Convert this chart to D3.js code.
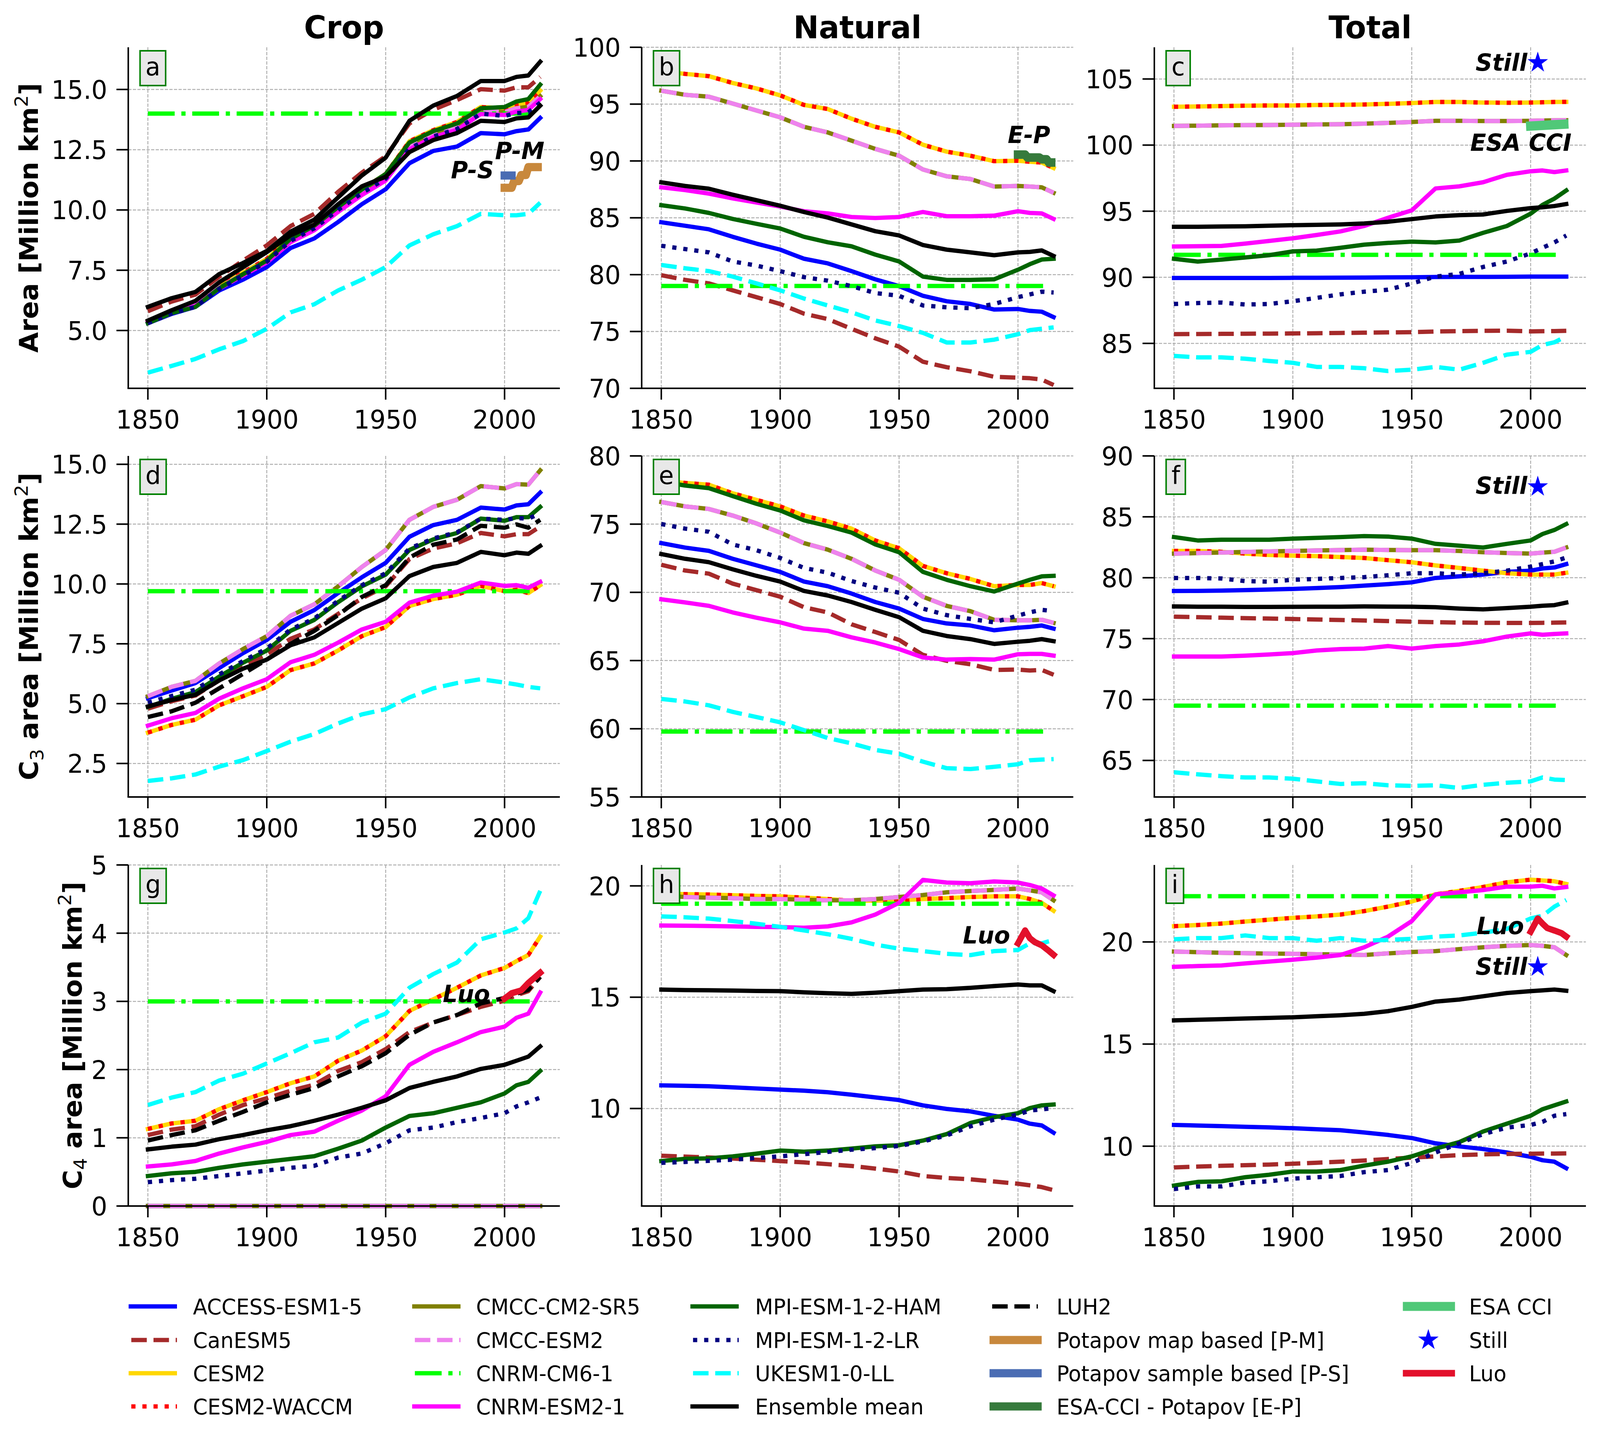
<!DOCTYPE html>
<html>
<head>
<meta charset="utf-8">
<script src="https://cdn.jsdelivr.net/npm/d3@7"></script>
<style>
  html, body { margin: 0; padding: 0; background: #fff; overflow: hidden; }
  #fig { display: block; width: 100vw; height: 100vh; }
  text { font-family: "DejaVu Sans", sans-serif; }
</style>
</head>
<body>
<svg id="fig"></svg>
<script>
// ---------- data ----------
const years = [1850, 1860, 1870, 1880, 1890, 1900, 1910, 1920, 1930, 1940, 1950, 1960, 1970, 1980, 1990, 2000, 2005, 2010, 2015];
const cnrmYears = [1850, 2012];

const models = ["ACCESS-ESM1-5", "CanESM5", "CESM2", "CESM2-WACCM", "CMCC-CM2-SR5", "CMCC-ESM2",
    "CNRM-CM6-1", "CNRM-ESM2-1", "MPI-ESM-1-2-HAM", "MPI-ESM-1-2-LR", "UKESM1-0-LL", "Ensemble mean", "LUH2"];

const columnTitles = ["Crop", "Natural", "Total"];
const panelLetters = ["a", "b", "c", "d", "e", "f", "g", "h", "i"];

// (a) crop area
const cropTotal = {
    "ACCESS-ESM1-5": [5.30, 5.69, 5.98, 6.66, 7.11, 7.63, 8.42, 8.82, 9.50, 10.24, 10.86, 11.94, 12.45, 12.63, 13.19, 13.14, 13.27, 13.34, 13.82],
    "CanESM5": [5.80, 6.20, 6.49, 7.23, 7.90, 8.53, 9.33, 9.84, 10.75, 11.55, 12.23, 13.59, 14.16, 14.56, 15.01, 14.95, 15.09, 15.09, 15.52],
    "CESM2": [5.40, 5.80, 6.09, 6.83, 7.40, 7.97, 8.84, 9.39, 10.16, 10.86, 11.49, 12.85, 13.31, 13.65, 14.27, 14.22, 14.39, 14.44, 14.95],
    "CESM2-WACCM": [5.40, 5.80, 6.09, 6.83, 7.40, 7.97, 8.84, 9.39, 10.16, 10.86, 11.49, 12.85, 13.31, 13.65, 14.27, 14.22, 14.39, 14.44, 14.95],
    "CMCC-CM2-SR5": [5.36, 5.76, 6.05, 6.78, 7.34, 7.90, 8.76, 9.30, 10.06, 10.76, 11.38, 12.70, 13.18, 13.50, 14.12, 14.06, 14.22, 14.28, 14.72],
    "CMCC-ESM2": [5.36, 5.76, 6.05, 6.78, 7.34, 7.90, 8.76, 9.30, 10.06, 10.76, 11.38, 12.70, 13.18, 13.50, 14.12, 14.06, 14.22, 14.28, 14.72],
    "CNRM-CM6-1": [14.0, 14.0],
    "CNRM-ESM2-1": [5.35, 5.74, 6.02, 6.74, 7.28, 7.82, 8.66, 9.16, 9.92, 10.62, 11.22, 12.52, 13.02, 13.32, 13.98, 13.94, 14.08, 14.15, 14.60],
    "MPI-ESM-1-2-HAM": [5.30, 5.72, 5.98, 6.75, 7.33, 7.90, 8.80, 9.35, 10.12, 10.85, 11.49, 12.80, 13.27, 13.59, 14.22, 14.27, 14.50, 14.60, 15.20],
    "MPI-ESM-1-2-LR": [5.30, 5.70, 5.98, 6.72, 7.28, 7.85, 8.72, 9.24, 10.00, 10.70, 11.30, 12.55, 13.05, 13.36, 14.00, 13.90, 14.02, 14.05, 14.45],
    "UKESM1-0-LL": [3.25, 3.53, 3.82, 4.22, 4.56, 5.07, 5.75, 6.09, 6.66, 7.11, 7.63, 8.53, 8.99, 9.33, 9.84, 9.78, 9.78, 9.84, 10.30],
    "Ensemble mean": [5.98, 6.34, 6.60, 7.34, 7.80, 8.30, 9.10, 9.60, 10.52, 11.43, 12.17, 13.70, 14.33, 14.73, 15.35, 15.35, 15.52, 15.58, 16.15],
    "LUH2": [5.41, 5.84, 6.23, 7.00, 7.62, 8.25, 8.95, 9.39, 10.24, 10.98, 11.38, 12.40, 12.90, 13.19, 13.70, 13.65, 13.80, 13.84, 14.33]
};

// (b) natural area
const naturalTotal = {
    "ACCESS-ESM1-5": [84.61, 84.30, 83.99, 83.33, 82.73, 82.20, 81.40, 80.99, 80.31, 79.59, 78.99, 78.14, 77.66, 77.42, 76.93, 76.98, 76.81, 76.74, 76.26],
    "CanESM5": [79.95, 79.54, 79.23, 78.62, 78.02, 77.42, 76.57, 76.09, 75.24, 74.40, 73.67, 72.34, 71.86, 71.50, 71.01, 70.94, 70.89, 70.77, 70.29],
    "CESM2": [97.90, 97.66, 97.46, 96.86, 96.38, 95.77, 94.93, 94.57, 93.72, 93.00, 92.51, 91.43, 90.82, 90.46, 89.98, 90.02, 89.93, 89.86, 89.37],
    "CESM2-WACCM": [97.90, 97.66, 97.46, 96.86, 96.38, 95.77, 94.93, 94.57, 93.72, 93.00, 92.51, 91.43, 90.82, 90.46, 89.98, 90.02, 89.93, 89.86, 89.37],
    "CMCC-CM2-SR5": [96.18, 95.82, 95.65, 95.05, 94.44, 93.84, 93.00, 92.51, 91.79, 91.06, 90.46, 89.25, 88.65, 88.41, 87.75, 87.80, 87.75, 87.68, 87.20],
    "CMCC-ESM2": [96.18, 95.82, 95.65, 95.05, 94.44, 93.84, 93.00, 92.51, 91.79, 91.06, 90.46, 89.25, 88.65, 88.41, 87.75, 87.80, 87.75, 87.68, 87.20],
    "CNRM-CM6-1": [79.0, 79.0],
    "CNRM-ESM2-1": [87.68, 87.44, 87.13, 86.71, 86.35, 85.99, 85.58, 85.39, 85.07, 84.98, 85.07, 85.51, 85.14, 85.14, 85.19, 85.58, 85.43, 85.39, 84.90],
    "MPI-ESM-1-2-HAM": [86.11, 85.82, 85.43, 84.90, 84.47, 84.06, 83.33, 82.85, 82.49, 81.76, 81.16, 79.83, 79.54, 79.54, 79.59, 80.43, 80.92, 81.33, 81.40],
    "MPI-ESM-1-2-LR": [82.54, 82.25, 81.96, 81.16, 80.80, 80.31, 79.78, 79.47, 78.99, 78.38, 78.14, 77.29, 77.13, 77.05, 77.42, 78.02, 78.26, 78.50, 78.43],
    "UKESM1-0-LL": [80.85, 80.56, 80.31, 79.83, 79.23, 78.62, 77.90, 77.29, 76.69, 75.97, 75.48, 74.88, 74.03, 74.03, 74.28, 74.76, 75.12, 75.24, 75.36],
    "Ensemble mean": [88.12, 87.80, 87.56, 87.03, 86.55, 86.06, 85.51, 85.02, 84.42, 83.82, 83.45, 82.61, 82.20, 81.96, 81.71, 81.96, 82.00, 82.13, 81.64]
};

// (c) total area
const allTotal = {
    "ACCESS-ESM1-5": [89.95, 89.95, 89.95, 89.95, 89.95, 89.96, 89.96, 89.97, 89.98, 89.99, 90.00, 90.02, 90.03, 90.03, 90.04, 90.05, 90.05, 90.05, 90.05],
    "CanESM5": [85.70, 85.71, 85.72, 85.73, 85.74, 85.75, 85.77, 85.79, 85.81, 85.83, 85.85, 85.90, 85.93, 85.95, 85.96, 85.91, 85.92, 85.93, 85.95],
    "CESM2": [102.90, 102.92, 102.95, 102.98, 103.00, 103.00, 103.03, 103.05, 103.07, 103.12, 103.18, 103.26, 103.26, 103.22, 103.20, 103.22, 103.24, 103.26, 103.27],
    "CESM2-WACCM": [102.90, 102.92, 102.95, 102.98, 103.00, 103.00, 103.03, 103.05, 103.07, 103.12, 103.18, 103.26, 103.26, 103.22, 103.20, 103.22, 103.24, 103.26, 103.27],
    "CMCC-CM2-SR5": [101.45, 101.47, 101.50, 101.51, 101.52, 101.54, 101.56, 101.58, 101.62, 101.68, 101.75, 101.84, 101.84, 101.82, 101.82, 101.84, 101.86, 101.87, 101.88],
    "CMCC-ESM2": [101.45, 101.47, 101.50, 101.51, 101.52, 101.54, 101.56, 101.58, 101.62, 101.68, 101.75, 101.84, 101.84, 101.82, 101.82, 101.84, 101.86, 101.87, 101.88],
    "CNRM-CM6-1": [91.7, 91.7],
    "CNRM-ESM2-1": [92.33, 92.35, 92.37, 92.55, 92.75, 92.95, 93.20, 93.47, 93.88, 94.50, 95.06, 96.72, 96.88, 97.19, 97.75, 98.02, 98.08, 97.96, 98.08],
    "MPI-ESM-1-2-HAM": [91.40, 91.19, 91.34, 91.50, 91.67, 91.96, 92.02, 92.23, 92.47, 92.60, 92.70, 92.64, 92.78, 93.36, 93.88, 94.81, 95.48, 95.95, 96.57],
    "MPI-ESM-1-2-LR": [87.98, 88.05, 88.09, 87.94, 87.98, 88.19, 88.44, 88.71, 88.91, 89.06, 89.53, 90.05, 90.26, 90.78, 91.19, 91.81, 92.23, 92.64, 93.16],
    "UKESM1-0-LL": [84.05, 83.94, 83.94, 83.84, 83.67, 83.53, 83.22, 83.22, 83.12, 82.91, 83.01, 83.22, 83.01, 83.53, 84.15, 84.36, 84.88, 85.08, 85.54],
    "Ensemble mean": [93.82, 93.82, 93.84, 93.86, 93.90, 93.94, 93.97, 94.00, 94.07, 94.20, 94.40, 94.60, 94.70, 94.75, 95.02, 95.23, 95.30, 95.39, 95.54]
};

// (d) crop C3 area
const cropC3 = {
    "ACCESS-ESM1-5": [5.23, 5.55, 5.86, 6.49, 7.11, 7.66, 8.42, 8.91, 9.62, 10.28, 10.88, 11.97, 12.46, 12.68, 13.19, 13.11, 13.28, 13.33, 13.82],
    "CanESM5": [4.79, 5.10, 5.34, 5.97, 6.57, 7.06, 7.71, 8.10, 8.75, 9.40, 9.90, 11.04, 11.48, 11.70, 12.13, 11.99, 12.08, 12.08, 12.40],
    "CESM2": [3.79, 4.11, 4.33, 4.93, 5.31, 5.70, 6.40, 6.68, 7.22, 7.82, 8.20, 9.08, 9.37, 9.55, 9.92, 9.70, 9.76, 9.62, 9.95],
    "CESM2-WACCM": [3.79, 4.11, 4.33, 4.93, 5.31, 5.70, 6.40, 6.68, 7.22, 7.82, 8.20, 9.08, 9.37, 9.55, 9.92, 9.70, 9.76, 9.62, 9.95],
    "CMCC-CM2-SR5": [5.31, 5.70, 5.95, 6.68, 7.28, 7.82, 8.67, 9.15, 9.90, 10.71, 11.42, 12.68, 13.22, 13.52, 14.09, 13.99, 14.17, 14.15, 14.75],
    "CMCC-ESM2": [5.31, 5.70, 5.95, 6.68, 7.28, 7.82, 8.67, 9.15, 9.90, 10.71, 11.42, 12.68, 13.22, 13.52, 14.09, 13.99, 14.17, 14.15, 14.75],
    "CNRM-CM6-1": [9.7, 9.7],
    "CNRM-ESM2-1": [4.08, 4.39, 4.61, 5.21, 5.64, 6.02, 6.73, 7.04, 7.55, 8.10, 8.42, 9.22, 9.51, 9.68, 10.06, 9.92, 9.95, 9.84, 10.09],
    "MPI-ESM-1-2-HAM": [4.86, 5.20, 5.48, 6.13, 6.71, 7.22, 8.04, 8.50, 9.24, 9.90, 10.39, 11.42, 11.86, 12.13, 12.73, 12.64, 12.79, 12.79, 13.22],
    "MPI-ESM-1-2-LR": [5.04, 5.32, 5.58, 6.22, 6.78, 7.30, 8.10, 8.56, 9.30, 9.95, 10.45, 11.48, 11.90, 12.16, 12.73, 12.68, 12.75, 12.73, 12.95],
    "UKESM1-0-LL": [1.77, 1.88, 2.04, 2.37, 2.64, 3.02, 3.41, 3.73, 4.17, 4.55, 4.77, 5.26, 5.64, 5.86, 6.02, 5.88, 5.80, 5.70, 5.64],
    "Ensemble mean": [4.88, 5.15, 5.37, 5.97, 6.46, 6.84, 7.44, 7.77, 8.37, 8.97, 9.40, 10.33, 10.71, 10.88, 11.34, 11.20, 11.31, 11.26, 11.59],
    "LUH2": [4.44, 4.68, 5.04, 5.64, 6.24, 6.84, 7.50, 8.04, 8.70, 9.46, 9.95, 11.10, 11.64, 11.86, 12.43, 12.35, 12.49, 12.35, 12.68]
};

// (e) natural C3 area
const naturalC3 = {
    "ACCESS-ESM1-5": [73.61, 73.28, 73.04, 72.46, 71.98, 71.50, 70.79, 70.45, 69.91, 69.29, 68.81, 68.05, 67.72, 67.57, 67.22, 67.41, 67.47, 67.57, 67.34],
    "CanESM5": [72.02, 71.60, 71.37, 70.64, 70.16, 69.68, 68.91, 68.53, 67.66, 67.09, 66.51, 65.42, 64.98, 64.73, 64.31, 64.34, 64.27, 64.31, 63.96],
    "CESM2": [78.18, 78.02, 77.89, 77.26, 76.78, 76.30, 75.63, 75.20, 74.67, 73.80, 73.23, 71.94, 71.40, 70.98, 70.45, 70.54, 70.54, 70.68, 70.45],
    "CESM2-WACCM": [78.18, 78.02, 77.89, 77.26, 76.78, 76.30, 75.63, 75.20, 74.67, 73.80, 73.23, 71.94, 71.40, 70.98, 70.45, 70.54, 70.54, 70.68, 70.45],
    "CMCC-CM2-SR5": [76.62, 76.30, 76.11, 75.63, 75.05, 74.38, 73.61, 73.13, 72.46, 71.60, 70.92, 69.68, 69.01, 68.62, 67.99, 67.95, 67.95, 67.99, 67.76],
    "CMCC-ESM2": [76.62, 76.30, 76.11, 75.63, 75.05, 74.38, 73.61, 73.13, 72.46, 71.60, 70.92, 69.68, 69.01, 68.62, 67.99, 67.95, 67.95, 67.99, 67.76],
    "CNRM-CM6-1": [59.8, 59.8],
    "CNRM-ESM2-1": [69.49, 69.26, 69.01, 68.53, 68.14, 67.80, 67.34, 67.18, 66.70, 66.32, 65.84, 65.23, 65.07, 65.11, 65.07, 65.46, 65.49, 65.49, 65.36],
    "MPI-ESM-1-2-HAM": [78.12, 77.83, 77.64, 77.06, 76.49, 76.00, 75.28, 74.86, 74.38, 73.51, 72.94, 71.50, 70.92, 70.45, 70.06, 70.64, 70.92, 71.17, 71.21],
    "MPI-ESM-1-2-LR": [75.01, 74.67, 74.44, 73.51, 73.09, 72.52, 71.79, 71.44, 70.83, 70.35, 69.97, 68.81, 68.33, 68.05, 67.80, 68.30, 68.53, 68.72, 68.62],
    "UKESM1-0-LL": [62.19, 62.00, 61.72, 61.24, 60.86, 60.47, 59.90, 59.32, 58.93, 58.45, 58.17, 57.59, 57.11, 57.05, 57.21, 57.40, 57.69, 57.74, 57.78],
    "Ensemble mean": [72.81, 72.46, 72.21, 71.69, 71.21, 70.79, 70.10, 69.77, 69.29, 68.72, 68.18, 67.18, 66.80, 66.57, 66.22, 66.38, 66.45, 66.57, 66.42]
};

// (f) total C3 area
const allC3 = {
    "ACCESS-ESM1-5": [78.91, 78.92, 78.94, 78.98, 79.03, 79.08, 79.15, 79.23, 79.35, 79.47, 79.62, 79.98, 80.11, 80.26, 80.48, 80.58, 80.76, 80.84, 81.12],
    "CanESM5": [76.80, 76.76, 76.72, 76.68, 76.65, 76.61, 76.57, 76.53, 76.49, 76.44, 76.39, 76.35, 76.32, 76.30, 76.29, 76.29, 76.30, 76.31, 76.33],
    "CESM2": [82.20, 82.20, 82.13, 81.98, 81.87, 81.81, 81.77, 81.70, 81.62, 81.44, 81.27, 81.01, 80.80, 80.58, 80.37, 80.26, 80.26, 80.26, 80.41],
    "CESM2-WACCM": [82.20, 82.20, 82.13, 81.98, 81.87, 81.81, 81.77, 81.70, 81.62, 81.44, 81.27, 81.01, 80.80, 80.58, 80.37, 80.26, 80.26, 80.26, 80.41],
    "CMCC-CM2-SR5": [81.98, 82.02, 82.07, 82.12, 82.16, 82.20, 82.24, 82.27, 82.30, 82.28, 82.26, 82.26, 82.20, 82.09, 82.03, 81.98, 82.06, 82.13, 82.48],
    "CMCC-ESM2": [81.98, 82.02, 82.07, 82.12, 82.16, 82.20, 82.24, 82.27, 82.30, 82.28, 82.26, 82.26, 82.20, 82.09, 82.03, 81.98, 82.06, 82.13, 82.48],
    "CNRM-CM6-1": [69.5, 69.5],
    "CNRM-ESM2-1": [73.53, 73.53, 73.53, 73.60, 73.70, 73.81, 74.03, 74.14, 74.18, 74.39, 74.18, 74.39, 74.52, 74.78, 75.17, 75.43, 75.32, 75.38, 75.43],
    "MPI-ESM-1-2-HAM": [83.34, 83.06, 83.12, 83.12, 83.12, 83.21, 83.27, 83.34, 83.42, 83.38, 83.21, 82.78, 82.63, 82.48, 82.78, 83.06, 83.59, 83.92, 84.41],
    "MPI-ESM-1-2-LR": [79.98, 79.98, 79.94, 79.72, 79.68, 79.83, 79.90, 79.98, 80.05, 80.20, 80.37, 80.37, 80.26, 80.37, 80.58, 80.91, 81.12, 81.34, 81.66],
    "UKESM1-0-LL": [64.03, 63.86, 63.71, 63.60, 63.60, 63.50, 63.28, 63.07, 63.13, 62.96, 62.91, 62.96, 62.74, 63.00, 63.17, 63.28, 63.60, 63.43, 63.39],
    "Ensemble mean": [77.64, 77.62, 77.62, 77.60, 77.60, 77.61, 77.62, 77.62, 77.64, 77.63, 77.62, 77.58, 77.47, 77.40, 77.51, 77.62, 77.70, 77.75, 77.96]
};

// (g) crop C4 area
const cropC4 = {
    "ACCESS-ESM1-5": [0, 0, 0, 0, 0, 0, 0, 0, 0, 0, 0, 0, 0, 0, 0, 0, 0, 0, 0],
    "CanESM5": [1.04, 1.12, 1.17, 1.34, 1.48, 1.58, 1.69, 1.78, 1.98, 2.11, 2.30, 2.55, 2.69, 2.80, 2.92, 3.01, 3.09, 3.15, 3.36],
    "CESM2": [1.13, 1.21, 1.25, 1.42, 1.55, 1.67, 1.80, 1.90, 2.13, 2.28, 2.49, 2.86, 3.03, 3.20, 3.38, 3.49, 3.59, 3.68, 3.95],
    "CESM2-WACCM": [1.13, 1.21, 1.25, 1.42, 1.55, 1.67, 1.80, 1.90, 2.13, 2.28, 2.49, 2.86, 3.03, 3.20, 3.38, 3.49, 3.59, 3.68, 3.95],
    "CMCC-CM2-SR5": [0, 0, 0, 0, 0, 0, 0, 0, 0, 0, 0, 0, 0, 0, 0, 0, 0, 0, 0],
    "CMCC-ESM2": [0, 0, 0, 0, 0, 0, 0, 0, 0, 0, 0, 0, 0, 0, 0, 0, 0, 0, 0],
    "CNRM-CM6-1": [3.0, 3.0],
    "CNRM-ESM2-1": [0.58, 0.61, 0.66, 0.77, 0.86, 0.94, 1.04, 1.09, 1.25, 1.40, 1.61, 2.07, 2.26, 2.40, 2.55, 2.63, 2.76, 2.82, 3.13],
    "MPI-ESM-1-2-HAM": [0.44, 0.48, 0.50, 0.56, 0.61, 0.65, 0.69, 0.73, 0.84, 0.96, 1.15, 1.32, 1.36, 1.44, 1.52, 1.65, 1.77, 1.82, 1.98],
    "MPI-ESM-1-2-LR": [0.35, 0.38, 0.40, 0.44, 0.48, 0.52, 0.56, 0.59, 0.71, 0.77, 0.92, 1.11, 1.15, 1.23, 1.29, 1.36, 1.46, 1.52, 1.59],
    "UKESM1-0-LL": [1.48, 1.59, 1.67, 1.84, 1.94, 2.09, 2.24, 2.40, 2.47, 2.69, 2.82, 3.20, 3.40, 3.57, 3.91, 4.01, 4.07, 4.22, 4.62],
    "Ensemble mean": [0.83, 0.87, 0.90, 0.98, 1.04, 1.11, 1.17, 1.25, 1.34, 1.44, 1.55, 1.73, 1.82, 1.90, 2.01, 2.07, 2.13, 2.19, 2.34],
    "LUH2": [0.96, 1.04, 1.11, 1.25, 1.38, 1.52, 1.63, 1.73, 1.90, 2.05, 2.24, 2.51, 2.69, 2.80, 2.97, 3.05, 3.11, 3.17, 3.36]
};

// (h) natural C4 area
const naturalC4 = {
    "ACCESS-ESM1-5": [11.04, 11.02, 11.00, 10.95, 10.90, 10.85, 10.80, 10.73, 10.62, 10.50, 10.38, 10.14, 9.98, 9.87, 9.67, 9.50, 9.32, 9.24, 8.91],
    "CanESM5": [7.88, 7.84, 7.80, 7.75, 7.70, 7.64, 7.58, 7.50, 7.42, 7.30, 7.17, 6.97, 6.88, 6.82, 6.72, 6.62, 6.55, 6.47, 6.33],
    "CESM2": [19.65, 19.63, 19.61, 19.58, 19.55, 19.53, 19.47, 19.41, 19.33, 19.34, 19.35, 19.41, 19.45, 19.50, 19.53, 19.53, 19.41, 19.24, 18.88],
    "CESM2-WACCM": [19.65, 19.63, 19.61, 19.58, 19.55, 19.53, 19.47, 19.41, 19.33, 19.34, 19.35, 19.41, 19.45, 19.50, 19.53, 19.53, 19.41, 19.24, 18.88],
    "CMCC-CM2-SR5": [19.57, 19.50, 19.47, 19.45, 19.41, 19.41, 19.38, 19.35, 19.35, 19.41, 19.50, 19.59, 19.71, 19.77, 19.82, 19.88, 19.80, 19.71, 19.35],
    "CMCC-ESM2": [19.57, 19.50, 19.47, 19.45, 19.41, 19.41, 19.38, 19.35, 19.35, 19.41, 19.50, 19.59, 19.71, 19.77, 19.82, 19.88, 19.80, 19.71, 19.35],
    "CNRM-CM6-1": [19.2, 19.2],
    "CNRM-ESM2-1": [18.22, 18.21, 18.20, 18.18, 18.16, 18.15, 18.12, 18.18, 18.36, 18.71, 19.24, 20.27, 20.15, 20.12, 20.20, 20.15, 20.04, 19.88, 19.57],
    "MPI-ESM-1-2-HAM": [7.64, 7.74, 7.76, 7.85, 7.97, 8.11, 8.06, 8.11, 8.20, 8.30, 8.35, 8.56, 8.85, 9.35, 9.61, 9.79, 10.02, 10.14, 10.18],
    "MPI-ESM-1-2-LR": [7.56, 7.60, 7.65, 7.70, 7.78, 7.85, 7.95, 8.05, 8.15, 8.22, 8.32, 8.52, 8.79, 9.20, 9.50, 9.73, 9.91, 9.96, 10.02],
    "UKESM1-0-LL": [18.63, 18.59, 18.53, 18.42, 18.30, 18.16, 18.00, 17.83, 17.62, 17.36, 17.18, 17.07, 16.95, 16.89, 17.07, 17.12, 17.42, 17.42, 17.57],
    "Ensemble mean": [15.34, 15.32, 15.31, 15.30, 15.28, 15.27, 15.22, 15.18, 15.15, 15.20, 15.27, 15.34, 15.36, 15.42, 15.50, 15.57, 15.53, 15.53, 15.27]
};

// (i) total C4 area
const allC4 = {
    "ACCESS-ESM1-5": [11.04, 11.01, 10.98, 10.95, 10.92, 10.88, 10.83, 10.78, 10.67, 10.55, 10.40, 10.14, 9.99, 9.86, 9.69, 9.48, 9.31, 9.24, 8.92],
    "CanESM5": [8.96, 9.00, 9.04, 9.07, 9.10, 9.14, 9.19, 9.24, 9.30, 9.37, 9.44, 9.50, 9.56, 9.60, 9.62, 9.63, 9.64, 9.64, 9.65],
    "CESM2": [20.77, 20.83, 20.90, 21.00, 21.09, 21.18, 21.25, 21.34, 21.51, 21.73, 21.98, 22.33, 22.50, 22.69, 22.92, 23.05, 23.01, 22.97, 22.84],
    "CESM2-WACCM": [20.77, 20.83, 20.90, 21.00, 21.09, 21.18, 21.25, 21.34, 21.51, 21.73, 21.98, 22.33, 22.50, 22.69, 22.92, 23.05, 23.01, 22.97, 22.84],
    "CMCC-CM2-SR5": [19.53, 19.50, 19.47, 19.45, 19.43, 19.42, 19.40, 19.39, 19.36, 19.44, 19.51, 19.55, 19.65, 19.74, 19.81, 19.85, 19.81, 19.74, 19.36],
    "CMCC-ESM2": [19.53, 19.50, 19.47, 19.45, 19.43, 19.42, 19.40, 19.39, 19.36, 19.44, 19.51, 19.55, 19.65, 19.74, 19.81, 19.85, 19.81, 19.74, 19.36],
    "CNRM-CM6-1": [22.24, 22.24],
    "CNRM-ESM2-1": [18.78, 18.82, 18.85, 18.95, 19.04, 19.13, 19.23, 19.36, 19.74, 20.26, 21.02, 22.33, 22.43, 22.54, 22.71, 22.71, 22.75, 22.62, 22.69],
    "MPI-ESM-1-2-HAM": [8.07, 8.25, 8.28, 8.48, 8.60, 8.76, 8.76, 8.83, 9.05, 9.24, 9.50, 9.88, 10.20, 10.72, 11.10, 11.49, 11.81, 12.00, 12.19],
    "MPI-ESM-1-2-LR": [7.90, 8.03, 8.03, 8.22, 8.28, 8.41, 8.48, 8.54, 8.73, 8.83, 9.18, 9.69, 10.14, 10.59, 10.91, 11.04, 11.19, 11.49, 11.57],
    "UKESM1-0-LL": [20.13, 20.19, 20.19, 20.32, 20.19, 20.19, 20.06, 20.19, 20.06, 20.10, 20.15, 20.26, 20.32, 20.45, 20.64, 21.15, 21.28, 21.73, 22.05],
    "Ensemble mean": [16.16, 16.19, 16.22, 16.25, 16.28, 16.31, 16.36, 16.41, 16.48, 16.61, 16.82, 17.08, 17.18, 17.34, 17.50, 17.59, 17.63, 17.67, 17.61]
};

// observation-based estimates
const pmYears = [2000, 2003, 2004, 2006, 2007, 2009, 2010, 2014];
const pmCrop = [10.92, 10.92, 11.2, 11.2, 11.45, 11.45, 11.78, 11.78];
const psYears = [2000, 2003];
const psCrop = [11.43, 11.43];
const epYears = [2000, 2003, 2004, 2009, 2010, 2012, 2013, 2014];
const epNatural = [90.56, 90.56, 90.3, 90.3, 90.15, 90.15, 89.86, 89.86];
const esaYears = [2000, 2014];
const esaTotal = [101.44, 101.58];
const luoYears = [2000, 2003, 2005, 2007, 2010, 2013, 2015];
const luoCropC4 = [3.04, 3.12, 3.14, 3.16, 3.27, 3.36, 3.42];
const luoNaturalC4 = [17.42, 18.0, 17.65, 17.48, 17.33, 17.08, 16.9];
const luoTotalC4 = [20.5, 21.15, 20.9, 20.68, 20.56, 20.43, 20.26];
const stillYear = 2003;
const stillTotal = 106.24, stillC3 = 87.47, stillC4 = 18.78;

// axis limits and ticks per panel
const yDomains = [[2.6, 16.75], [70, 100], [81.6, 107.4], [1.1, 15.35], [55, 80], [62, 90], [0, 5], [5.62, 20.94], [7.07, 23.77]];
const yTicks = [[5, 7.5, 10, 12.5, 15], [70, 75, 80, 85, 90, 95, 100], [85, 90, 95, 100, 105],
    [2.5, 5, 7.5, 10, 12.5, 15], [55, 60, 65, 70, 75, 80], [65, 70, 75, 80, 85, 90],
    [0, 1, 2, 3, 4, 5], [10, 15, 20], [10, 15, 20]];
const xTicks = [1850, 1900, 1950, 2000];

// ---------- styles ----------
const lineStyles = {
    "ACCESS-ESM1-5": { color: "#0000ff", dash: "solid" },
    "CanESM5": { color: "#a52a2a", dash: "dashed" },
    "CESM2": { color: "#ffd700", dash: "solid" },
    "CESM2-WACCM": { color: "#ff0000", dash: "dotted" },
    "CMCC-CM2-SR5": { color: "#808000", dash: "solid" },
    "CMCC-ESM2": { color: "#ee82ee", dash: "dashed" },
    "CNRM-CM6-1": { color: "#00ff00", dash: "dashdot" },
    "CNRM-ESM2-1": { color: "#ff00ff", dash: "solid" },
    "MPI-ESM-1-2-HAM": { color: "#006400", dash: "solid" },
    "MPI-ESM-1-2-LR": { color: "#000080", dash: "dotted" },
    "UKESM1-0-LL": { color: "#00ffff", dash: "dashed" },
    "Ensemble mean": { color: "#000000", dash: "solid" },
    "LUH2": { color: "#000000", dash: "dashed" }
};
const dashPatterns = { solid: null, dashed: [3.7, 1.6], dotted: [1, 1.65], dashdot: [6.4, 1.6, 1, 1.6] };
const obsColors = { pm: "#c8883c", ps: "#4a6cb3", ep: "#367a3c", esa: "#50c878", still: "#0000ff", luo: "#e3102b" };

const W = 4204, H = 3668;
const LW = 11;
const colX = [337, 1686, 3033], rowY = [121, 1167, 2214];
const PW = 1134, PH = 873;
const tickFont = 66;

// the figure scales to the window so nothing is cut at the edges
const svg = d3.select("#fig")
    .attr("viewBox", `0 0 ${W} ${H}`)
    .attr("preserveAspectRatio", "none");
svg.append("rect").attr("width", W).attr("height", H).attr("fill", "#fff");

const x = d3.scaleLinear().domain([1841.75, 2023.25]).range([0, PW]);

function dashArray(kind, lw) {
    const p = dashPatterns[kind];
    return p ? p.map(v => v * lw).join(",") : null;
}

function drawLine(g, y, xs, ys, color, lw, dash, cap) {
    const line = d3.line().x((d, i) => x(xs[i])).y(d => y(d));
    g.append("path")
        .datum(ys)
        .attr("d", line)
        .attr("fill", "none")
        .attr("stroke", color)
        .attr("stroke-width", lw)
        .attr("stroke-linejoin", "round")
        .attr("stroke-linecap", cap || (dash && dash !== "solid" ? "butt" : "square"))
        .attr("stroke-dasharray", dash ? dashArray(dash, lw) : null);
}

function label(g, px, py, txt, anchor) {
    g.append("text")
        .attr("x", px).attr("y", py)
        .attr("text-anchor", anchor)
        .attr("font-size", 61)
        .attr("font-weight", "bold")
        .attr("font-style", "italic")
        .attr("fill", "#000")
        .text(txt);
}

function drawStar(g, px, py, size) {
    g.append("path")
        .attr("d", d3.symbol(d3.symbolStar).size(size)())
        .attr("transform", `translate(${px},${py})`)
        .attr("fill", obsColors.still);
}

const panelData = [cropTotal, naturalTotal, allTotal, cropC3, naturalC3, allC3, cropC4, naturalC4, allC4];

panelData.forEach((data, k) => {
    const col = k % 3, row = Math.floor(k / 3);
    const g = svg.append("g").attr("transform", `translate(${colX[col]},${rowY[row]})`);
    const y = d3.scaleLinear().domain(yDomains[k]).range([PH, 0]);

    // grid
    g.selectAll(".gx").data(xTicks).join("line")
        .attr("x1", d => x(d)).attr("x2", d => x(d)).attr("y1", 0).attr("y2", PH)
        .attr("stroke", "#b0b0b0").attr("stroke-width", 2.5).attr("stroke-dasharray", "8.5,3.5");
    g.selectAll(".gy").data(yTicks[k]).join("line")
        .attr("x1", 0).attr("x2", PW).attr("y1", d => y(d)).attr("y2", d => y(d))
        .attr("stroke", "#b0b0b0").attr("stroke-width", 2.5).attr("stroke-dasharray", "8.5,3.5");

    // model lines
    models.forEach(name => {
        const vals = data[name];
        if (!vals) return;
        const xs = name === "CNRM-CM6-1" ? cnrmYears : years;
        let dash = lineStyles[name].dash;
        if (name === "LUH2" && k === 0) dash = "solid"; // drawn solid in panel a
        drawLine(g, y, xs, vals, lineStyles[name].color, LW, dash);
    });

    // observations
    if (k === 0) {
        drawLine(g, y, pmYears, pmCrop, obsColors.pm, 21, null, "square");
        drawLine(g, y, psYears, psCrop, obsColors.ps, 21, null, "square");
        label(g, x(1996), y(12.11), "P-M", "start");
        label(g, x(1995.5), y(11.32), "P-S", "end");
    }
    if (k === 1) {
        drawLine(g, y, epYears, epNatural, obsColors.ep, 22, null, "square");
        label(g, x(1995.7), y(91.58), "E-P", "start");
    }
    if (k === 2) {
        drawLine(g, y, esaYears, esaTotal, obsColors.esa, 24, null, "square");
        label(g, x(2017.2), y(99.57), "ESA CCI", "end");
        drawStar(g, x(stillYear), y(stillTotal), 900);
        label(g, x(1998.6), y(105.63), "Still", "end");
    }
    if (k === 5) {
        drawStar(g, x(stillYear), y(stillC3), 900);
        label(g, x(1998.6), y(86.89), "Still", "end");
    }
    if (k === 6) {
        drawLine(g, y, luoYears, luoCropC4, obsColors.luo, 16, null, "square");
        label(g, x(1974), y(2.99), "Luo", "start");
    }
    if (k === 7) {
        drawLine(g, y, luoYears, luoNaturalC4, obsColors.luo, 16, null, "square");
        label(g, x(1996.7), y(17.42), "Luo", "end");
    }
    if (k === 8) {
        drawLine(g, y, luoYears, luoTotalC4, obsColors.luo, 16, null, "square");
        label(g, x(1997.2), y(20.39), "Luo", "end");
        drawStar(g, x(stillYear), y(stillC4), 900);
        label(g, x(1998.6), y(18.4), "Still", "end");
    }

    // spines and ticks
    g.append("line").attr("x1", 0).attr("x2", 0).attr("y1", 0).attr("y2", PH)
        .attr("stroke", "#000").attr("stroke-width", 4);
    g.append("line").attr("x1", -2).attr("x2", PW).attr("y1", PH).attr("y2", PH)
        .attr("stroke", "#000").attr("stroke-width", 4);

    const fmt = (k === 0 || k === 3) ? d3.format(".1f") : d3.format("d");
    yTicks[k].forEach(t => {
        g.append("line").attr("x1", -31).attr("x2", 0).attr("y1", y(t)).attr("y2", y(t))
            .attr("stroke", "#000").attr("stroke-width", 4);
        g.append("text").attr("x", -55).attr("y", y(t) + 24)
            .attr("text-anchor", "end").attr("font-size", tickFont).text(fmt(t));
    });
    xTicks.forEach(t => {
        g.append("line").attr("x1", x(t)).attr("x2", x(t)).attr("y1", PH).attr("y2", PH + 29)
            .attr("stroke", "#000").attr("stroke-width", 4);
        g.append("text").attr("x", x(t)).attr("y", PH + 103)
            .attr("text-anchor", "middle").attr("font-size", tickFont).text(t);
    });

    // panel letter box
    const lt = g.append("text").attr("x", 45).attr("y", 72)
        .attr("font-family", "DejaVu Serif").attr("font-size", 64).text(panelLetters[k]);
    const tw = lt.node().getComputedTextLength();
    g.insert("rect", () => lt.node())
        .attr("x", 31).attr("y", 9).attr("width", tw + 28).attr("height", 89)
        .attr("fill", "#e8e8e8").attr("stroke", "#008000").attr("stroke-width", 4);

    // column titles
    if (row === 0) {
        g.append("text").attr("x", PW / 2).attr("y", -23)
            .attr("text-anchor", "middle").attr("font-size", 80).attr("font-weight", "bold")
            .text(columnTitles[col]);
    }
});

// y axis labels
function yLabel(bx, cy, sub) {
    const t = svg.append("text")
        .attr("transform", `translate(${bx},${cy}) rotate(-90)`)
        .attr("text-anchor", "middle")
        .attr("font-size", 68)
        .attr("font-weight", "bold");
    if (sub) {
        t.append("tspan").text("C");
        t.append("tspan").attr("dy", 14).attr("font-size", 48).attr("font-weight", "normal").text(sub);
        t.append("tspan").attr("dy", -14).text(" area [Million km");
    } else {
        t.append("tspan").text("Area [Million km");
    }
    t.append("tspan").attr("dy", -27).attr("font-size", 48).attr("font-weight", "normal").text("2");
    t.append("tspan").attr("dy", 27).text("]");
}
yLabel(100, rowY[0] + PH / 2, null);
yLabel(100, rowY[1] + PH / 2, "3");
yLabel(214, rowY[2] + PH / 2, "4");

// ---------- legend ----------
const legendColX = [338, 1083, 1814, 2600, 3686];
const legendTextX = [507, 1251, 1984, 2776, 3860];
const legendRowY = [3344, 3430, 3515, 3600];
const legendItems = [
    ...models.map(m => ({ name: m, kind: "model" })),
    { name: "Potapov map based [P-M]", kind: "patch", color: obsColors.pm, h: 21 },
    { name: "Potapov sample based [P-S]", kind: "patch", color: obsColors.ps, h: 21 },
    { name: "ESA-CCI - Potapov [E-P]", kind: "patch", color: obsColors.ep, h: 21 },
    { name: "ESA CCI", kind: "patch", color: obsColors.esa, h: 23 },
    { name: "Still", kind: "star" },
    { name: "Luo", kind: "patch", color: obsColors.luo, h: 17 }
];
const lg = svg.append("g");
legendItems.forEach((it, i) => {
    const c = Math.floor(i / 4), r = i % 4;
    const x0 = legendColX[c], yc = legendRowY[r];
    if (it.kind === "model") {
        const st = lineStyles[it.name];
        const isSolid = st.dash === "solid";
        lg.append("line")
            .attr("x1", isSolid ? x0 : x0 + 7).attr("x2", x0 + 127)
            .attr("y1", yc).attr("y2", yc)
            .attr("stroke", st.color).attr("stroke-width", LW)
            .attr("stroke-dasharray", dashArray(st.dash, LW));
    } else if (it.kind === "patch") {
        lg.append("rect").attr("x", x0).attr("y", yc - it.h / 2)
            .attr("width", 137).attr("height", it.h).attr("fill", it.color);
    } else {
        drawStar(lg, x0 + 67, yc, 900);
    }
    lg.append("text").attr("x", legendTextX[c]).attr("y", yc + 20)
        .attr("font-size", 55).text(it.name);
});
</script>
</body>
</html>
